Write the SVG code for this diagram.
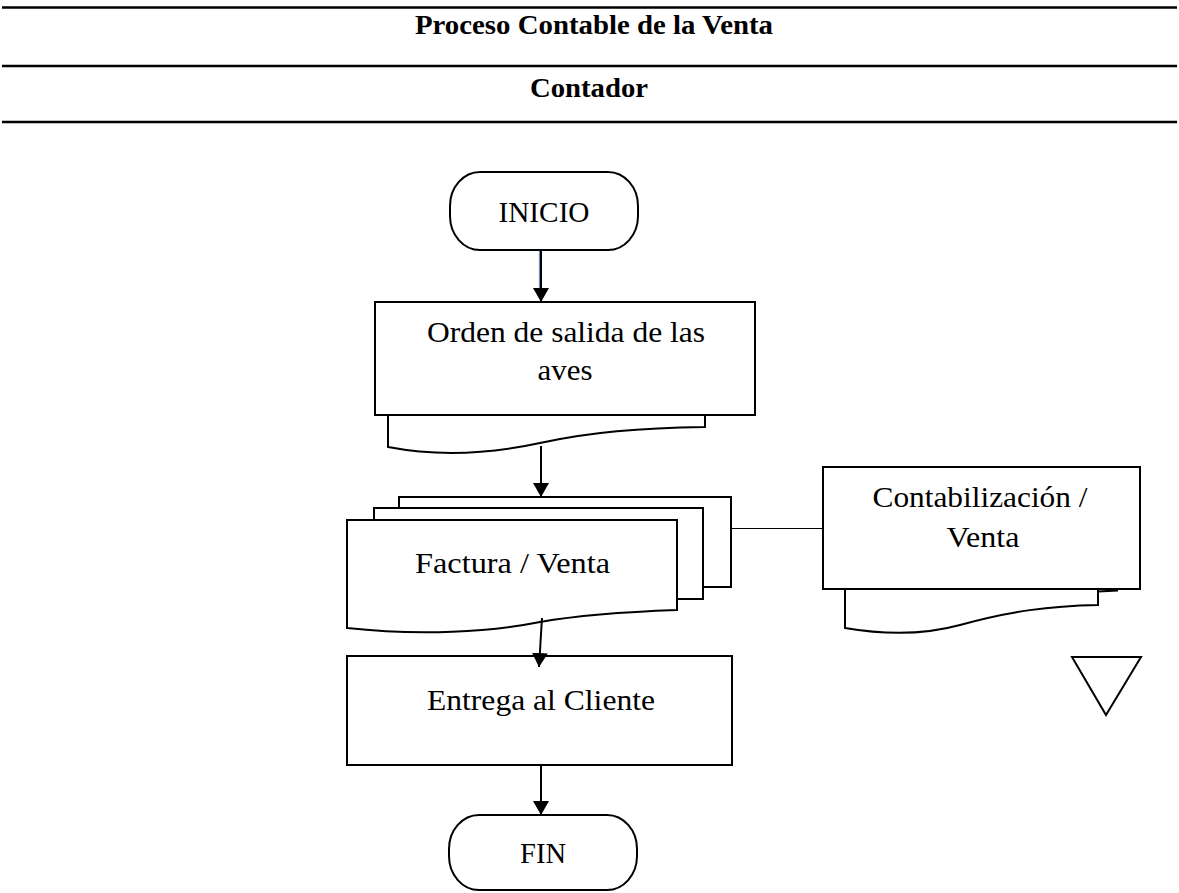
<svg xmlns="http://www.w3.org/2000/svg" width="1179" height="893" viewBox="0 0 1179 893">
<style>
.hd{stroke:#000;stroke-width:2.4}
.sh{fill:#fff;stroke:#000;stroke-width:2}
.t{font-family:"Liberation Serif","Times New Roman",serif;font-size:30px;fill:#000;text-anchor:middle}
.tb{font-family:"Liberation Serif","Times New Roman",serif;font-size:28px;font-weight:bold;fill:#000;text-anchor:middle}
.cn{stroke:#000;stroke-width:2;fill:none}
</style>
<defs>
<marker id="ah" markerUnits="userSpaceOnUse" markerWidth="14" markerHeight="16" viewBox="0 0 14 16" refX="14" refY="8" orient="auto">
<path d="M0,0 L14,8 L0,16 Z" fill="#000"/>
</marker>
</defs>
<rect width="1179" height="893" fill="#fff"/>
<g id="header">
<line class="hd" x1="2" y1="7.5" x2="1177" y2="7.5"/>
<line class="hd" x1="2" y1="66" x2="1177" y2="66"/>
<line class="hd" x1="2" y1="122" x2="1177" y2="122"/>
<text class="tb" x="594" y="34" textLength="358" lengthAdjust="spacingAndGlyphs">Proceso Contable de la Venta</text>
<text class="tb" x="589" y="97" textLength="118" lengthAdjust="spacingAndGlyphs">Contador</text>
</g>
<g id="inicio">
<rect class="sh" x="450" y="172" width="188" height="78" rx="30" ry="34"/>
<text class="t" x="544" y="222" textLength="91" lengthAdjust="spacingAndGlyphs">INICIO</text>
</g>
<g id="orden">
<path class="sh" d="M388,415 L388,447 C430,455 480,456 540,443 C590,432 640,428 705,427 L705,415"/>
<rect class="sh" x="375" y="302" width="380" height="113"/>
<text class="t" x="566" y="342" textLength="278" lengthAdjust="spacingAndGlyphs">Orden de salida de las</text>
<text class="t" x="565" y="380" textLength="55" lengthAdjust="spacingAndGlyphs">aves</text>
</g>
<g id="factura">
<rect class="sh" x="399" y="497" width="332" height="90"/>
<rect class="sh" x="374" y="508" width="329" height="91"/>
<path class="sh" d="M347,520 L677,520 L677,610 C620,612 580,615 540,622 C490,632 420,636 347,628 Z"/>
<text class="t" x="512.5" y="573" textLength="195" lengthAdjust="spacingAndGlyphs">Factura / Venta</text>
</g>
<g id="contabilizacion">
<path class="sh" d="M845,589 L845,628 C880,634 920,636 960,625 C1010,611 1050,606 1098,605 L1098,589"/>
<path class="cn" d="M1098,591.5 L1117,590.5 L1117,588"/>
<rect class="sh" x="823" y="467" width="317" height="122"/>
<text class="t" x="980" y="507" textLength="215" lengthAdjust="spacingAndGlyphs">Contabilización /</text>
<text class="t" x="983" y="547" textLength="73" lengthAdjust="spacingAndGlyphs">Venta</text>
</g>
<g id="archivo">
<polygon class="sh" points="1072,657 1141,657 1106,715"/>
</g>
<g id="entrega">
<rect class="sh" x="347" y="656" width="385" height="109"/>
<text class="t" x="541" y="709.5" textLength="228" lengthAdjust="spacingAndGlyphs">Entrega al Cliente</text>
</g>
<g id="fin">
<rect class="sh" x="449" y="815" width="188" height="75" rx="30" ry="34"/>
<text class="t" x="543" y="863" textLength="46" lengthAdjust="spacingAndGlyphs">FIN</text>
</g>
<g id="connectors">
<line x1="539.5" y1="251" x2="539.5" y2="290" stroke="#6b93bf" stroke-width="1.2"/>
<line class="cn" x1="541" y1="251" x2="541" y2="302" stroke-width="1.6" marker-end="url(#ah)"/>
<line class="cn" x1="541" y1="446" x2="541" y2="497" marker-end="url(#ah)"/>
<line class="cn" x1="542" y1="618" x2="539" y2="667" marker-end="url(#ah)"/>
<line class="cn" x1="541" y1="765" x2="541" y2="815" marker-end="url(#ah)"/>
<line x1="731" y1="528.5" x2="823" y2="528.5" stroke="#000" stroke-width="1"/>
</g>
</svg>
